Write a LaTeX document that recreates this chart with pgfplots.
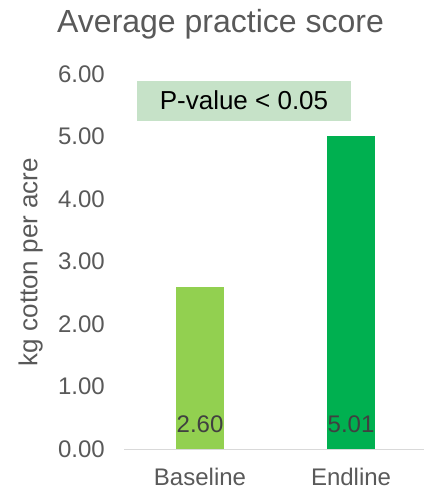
\documentclass[border=0pt]{standalone}
\usepackage{fontspec}
\setmainfont{Liberation Sans}
\usepackage{pgfplots}
\pgfplotsset{compat=1.18}
\definecolor{tickgray}{HTML}{595959}
\definecolor{valgray}{HTML}{404040}
\definecolor{basegreen}{HTML}{92D050}
\definecolor{endgreen}{HTML}{00B050}
\definecolor{boxgreen}{RGB}{198,226,200}
\definecolor{axisgray}{HTML}{D9D9D9}
\begin{document}
\begin{tikzpicture}
\useasboundingbox (-124.5bp,-42bp) rectangle (299.5bp,449bp);
\begin{axis}[
  at={(0,0)}, anchor=south west,
  scale only axis,
  width=299.5bp, height=375bp,
  xmin=-0.5, xmax=1.483,
  ymin=0, ymax=6,
  enlargelimits=false,
  axis x line*=bottom,
  axis y line*=left,
  x axis line style={draw=axisgray, line width=1bp},
  y axis line style={draw=none},
  xtick={0,1},
  xticklabels={Baseline,Endline},
  ytick={0,1,2,3,4,5,6},
  xtick style={draw=none},
  ytick style={draw=none},
  /pgf/number format/assume math mode=true,
  tick label style={font=\fontsize{24bp}{28bp}\selectfont, text=tickgray},
  yticklabel style={/pgf/number format/.cd, fixed, fixed zerofill, precision=2, /tikz/.cd, anchor=east, inner sep=0pt, xshift=-19.5bp},
  xticklabel style={anchor=base, inner sep=0pt, yshift=-36bp},
  clip=false,
]
\addplot[ybar, bar width=48bp, bar shift=0pt, fill=basegreen, draw=none] coordinates {(0,2.60)};
\addplot[ybar, bar width=48bp, bar shift=0pt, fill=endgreen, draw=none] coordinates {(1,5.01)};
\addplot[draw=none, mark=none, nodes near coords, point meta=explicit symbolic,
  nodes near coords style={anchor=base, inner sep=0pt, yshift=17bp, font=\fontsize{24bp}{28bp}\selectfont, text=valgray}]
  coordinates {(0,0)[2.60] (1,0)[5.01]};
\end{axis}
\fill[boxgreen] (12.5bp,328bp) rectangle (226.5bp,368bp);
\node[anchor=base, inner sep=0pt, font=\fontsize{26bp}{30bp}\selectfont, text=black] at (119.5bp,339bp) {P-value < 0.05};
\node[anchor=base west, inner sep=0pt, font=\fontsize{32bp}{38bp}\selectfont, text=tickgray] at (-67.5bp,416bp) {Average practice score};
\node[anchor=base, rotate=90, inner sep=0pt, font=\fontsize{26bp}{30bp}\selectfont, text=tickgray] at (-87bp,187bp) {kg cotton per acre};
\end{tikzpicture}
\end{document}
